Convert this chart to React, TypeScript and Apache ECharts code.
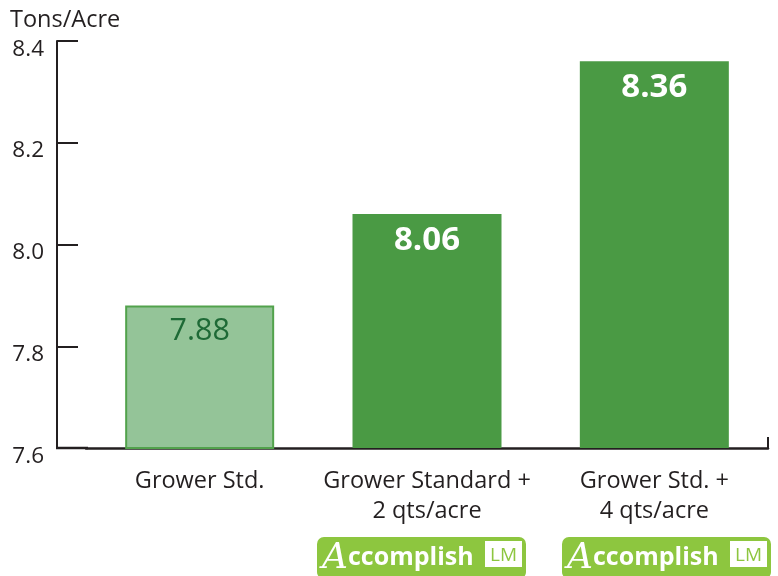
import React, { useEffect, useRef } from "react";
import * as echarts from "echarts";

const categories = ["Grower Std.", "Grower Standard +\n2 qts/acre", "Grower Std. +\n4 qts/acre"];
const values = [7.88, 8.06, 8.36];
const yMin = 7.6;
const yMax = 8.4;
const yInterval = 0.2;
const yAxisTitle = "Tons/Acre";
const logoCategories = [1, 2];

const DARK = "#231f20";
const GREEN = "#4a9a44";
const LIGHT = "#94c498";
const LIME = "#8dc63f";
const FONT = "'Open Sans', sans-serif";

function logo(x: number, y: number) {
  return {
    type: "group",
    x,
    y,
    children: [
      { type: "rect", shape: { x: 0, y: 0, width: 209, height: 42, r: 7 }, style: { fill: LIME } },
      { type: "rect", shape: { x: 168, y: 4, width: 37, height: 26 }, style: { fill: "#ffffff" } },
      {
        type: "text",
        x: 186.5,
        y: 17,
        style: { text: "LM", fill: LIME, fontSize: 19, fontFamily: FONT, align: "center", verticalAlign: "middle" },
      },
      {
        type: "text",
        x: 5,
        y: 18,
        style: {
          text: "{a|A}{b|ccomplish}",
          verticalAlign: "middle",
          rich: {
            a: { fontFamily: "'DejaVu Serif', serif", fontStyle: "italic", fontSize: 36, fill: "#fff", color: "#fff" },
            b: { fontFamily: FONT, fontWeight: "bold", fontSize: 25, fill: "#fff", color: "#fff" },
          },
        },
      },
    ],
  };
}

export default function App() {
  const ref = useRef<HTMLDivElement>(null);
  useEffect(() => {
    if (!ref.current) return;
    const chart = echarts.init(ref.current, null, { renderer: "svg" });
    chart.setOption({
      animation: false,
      title: {
        text: yAxisTitle,
        left: 10,
        top: 6,
        padding: 0,
        textStyle: { fontSize: 23.5, lineHeight: 24, fontWeight: "normal", color: DARK, fontFamily: FONT },
      },
      grid: { left: 86, right: 10, top: 41, bottom: 128 },
      xAxis: {
        type: "category",
        data: categories,
        axisLine: { lineStyle: { color: DARK, width: 2.5 } },
        axisTick: { show: false },
        axisLabel: { color: DARK, fontSize: 23.5, fontFamily: FONT, lineHeight: 30, margin: 16, interval: 0 },
      },
      yAxis: {
        type: "value",
        min: yMin,
        max: yMax,
        interval: yInterval,
        offset: 29,
        splitLine: { show: false },
        axisLine: { show: true, lineStyle: { color: DARK, width: 2 } },
        axisTick: { show: true, inside: true, length: 21, lineStyle: { color: DARK, width: 2 } },
        axisLabel: {
          color: DARK,
          fontSize: 22.5,
          fontFamily: FONT,
          margin: 13,
          verticalAlign: "top",
          lineHeight: 12,
          formatter: (v: number) => v.toFixed(1),
        },
      },
      series: [
        {
          type: "bar",
          barWidth: 149,
          data: values.map((v, i) => ({
            value: v,
            itemStyle:
              i === 0
                ? { color: LIGHT, borderColor: "#52a24c", borderWidth: 2 }
                : { color: GREEN },
            label:
              i === 0
                ? { color: "#1e6a36", fontWeight: "normal", fontSize: 30.5 }
                : { color: "#ffffff", fontWeight: "bold", fontSize: 33 },
          })),
          label: {
            show: true,
            position: "insideTop",
            distance: 7,
            fontFamily: FONT,
            formatter: (p: any) => p.value.toFixed(2),
          },
        },
      ],
      graphic: [
        { type: "line", shape: { x1: 56, y1: 448, x2: 88, y2: 448 }, style: { stroke: DARK, lineWidth: 2.5 } },
        { type: "line", shape: { x1: 768, y1: 449, x2: 768, y2: 437 }, style: { stroke: DARK, lineWidth: 2 } },
        ...logoCategories.map((c) => logo(c === 1 ? 317 : 562, 537)),
      ],
    });
    return () => chart.dispose();
  }, []);
  return <div ref={ref} style={{ position: "fixed", left: 0, top: 0, width: 778, height: 576 }} />;
}
